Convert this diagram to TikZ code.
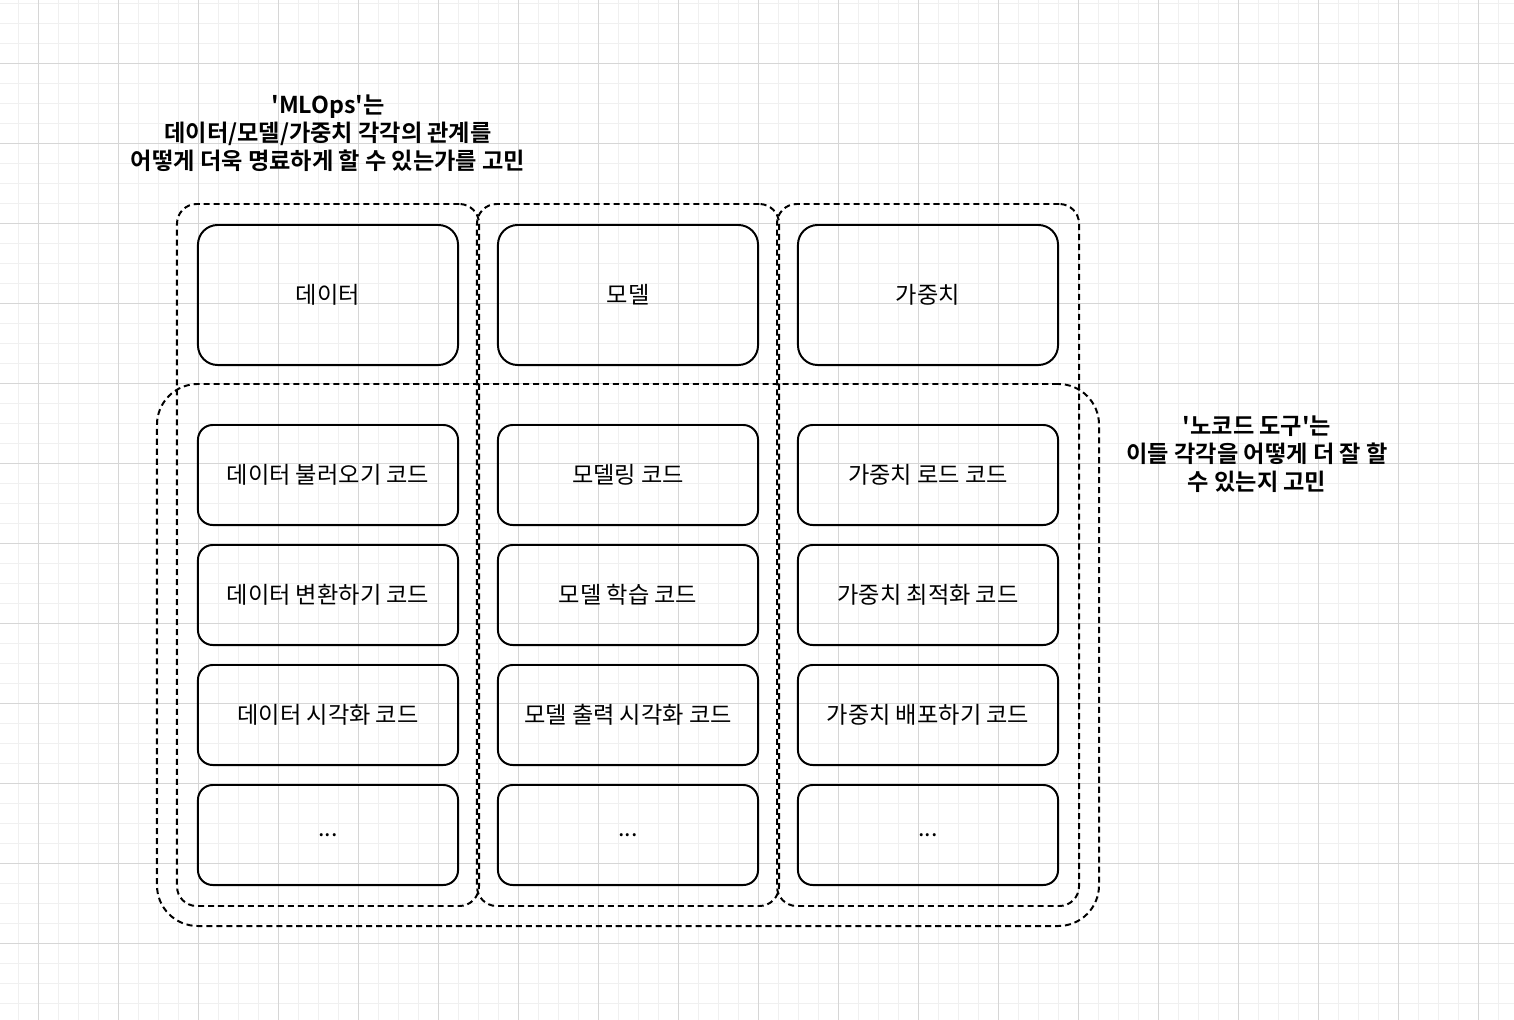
\documentclass[tikz,border=0pt]{standalone}
\usepackage{fontspec}
\setmainfont{Noto Sans CJK KR}[Ligatures=TeXOff, BoldFont={Noto Sans CJK KR Bold}]
\usepackage{tikz}
\usetikzlibrary{fit}
\definecolor{ink}{HTML}{000000}
\definecolor{gridminor}{HTML}{F0F0F0}
\definecolor{gridmajor}{HTML}{D6D6D6}

\begin{document}
\begin{tikzpicture}[x=0.025cm, y=-0.025cm, font=\fontsize{16.5}{20}\selectfont,
    headbox/.style={draw=ink, line width=1.4pt, rounded corners=14pt, minimum width=6.5cm, minimum height=3.5cm, inner sep=0pt},
    codebox/.style={draw=ink, line width=1.4pt, rounded corners=10.5pt, minimum width=6.5cm, minimum height=2.5cm, inner sep=0pt},
    colgroup/.style={draw=ink, line width=1.4pt, dash pattern=on 4.3pt off 2.8pt, rounded corners=14pt, inner sep=0.5cm},
    rowgroup/.style={draw=ink, line width=1.4pt, dash pattern=on 4.3pt off 2.8pt, rounded corners=29pt, inner sep=1cm},
    note/.style={align=center, font=\fontsize{16.5}{20}\selectfont\bfseries}]
    \useasboundingbox (0,0) rectangle (1514,1020);
    \fill[white] (0,0) rectangle (1514,1020);
    % Background grid: fine lines every 20, strong ones every 80.
    \foreach \x in {18,38,...,1514} \draw[gridminor, line width=0.6pt] (\x,0) -- (\x,1020);
    \foreach \y in {3.5,23.5,...,1020} \draw[gridminor, line width=0.6pt] (0,\y) -- (1514,\y);
    \foreach \x in {38,118,...,1514} \draw[gridmajor, line width=0.6pt] (\x,0) -- (\x,1020);
    \foreach \y in {63.5,143.5,...,1020} \draw[gridmajor, line width=0.6pt] (0,\y) -- (1514,\y);
    % The three things.
    \foreach \n/\x/\t in {data/328/데이터, model/628/모델, weight/928/가중치} {
      \node[headbox] (\n) at (\x,295) {\t};
    }
    % The code that goes with each of them.
    \foreach \n/\x/\a/\b/\c in {data/328/데이터 불러오기 코드/데이터 변환하기 코드/데이터 시각화 코드,
        model/628/모델링 코드/모델 학습 코드/모델 출력 시각화 코드,
        weight/928/가중치 로드 코드/가중치 최적화 코드/가중치 배포하기 코드} {
      \node[codebox] (\n1) at (\x,475) {\a};
      \node[codebox] (\n2) at (\x,595) {\b};
      \node[codebox] (\n3) at (\x,715) {\c};
      \node[codebox] (\n4) at (\x,835) {...};
    }
    % Dashed groups: one per column, one across all the code.
    \foreach \n in {data, model, weight} {
      \node[colgroup, fit=(\n) (\n4)] (\n group) {};
    }
    \node[rowgroup, fit=(data1) (weight4)] (codegroup) {};
    % Notes.
    \node[note] (mlops) at (328,133) {'MLOps'는\\데이터/모델/가중치 각각의 관계를\\어떻게 더욱 명료하게 할 수 있는가를 고민};
    \node[note] (nocode) at (1257,454) {'노코드 도구'는\\이들 각각을 어떻게 더 잘 할\\수 있는지 고민};
\end{tikzpicture}
\end{document}
